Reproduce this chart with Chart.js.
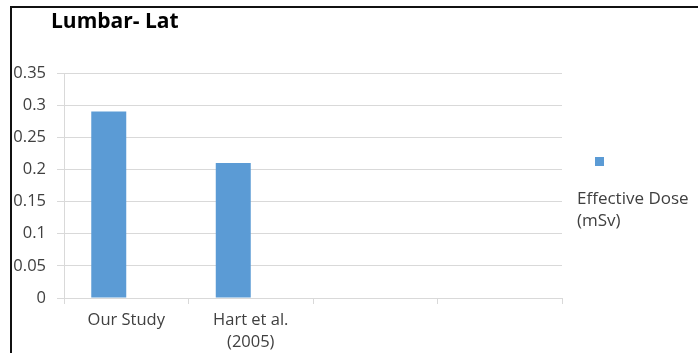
<!DOCTYPE html>
<html>
<head>
<meta charset="utf-8">
<script src="https://cdn.jsdelivr.net/npm/chart.js@4.4.1/dist/chart.umd.min.js"></script>
<style>
    body { margin: 0; background: #fff; }
    #wrap { position: relative; width: 698px; height: 353px; }
    #frame { position: absolute; left: 10px; top: 6px; width: 688px; height: 347px;
             border-top: 2px solid #111; border-left: 2px solid #111; box-sizing: border-box; }
    canvas { position: absolute; left: 0; top: 0; }
</style>
</head>
<body>
<div id="wrap">
    <div id="frame"></div>
    <canvas id="BarChart" width="698" height="353"></canvas>
</div>
<script>
// Chart values
const chartTitle = "Lumbar- Lat";
const categories = ["Our Study", ["Hart et al.", "(2005)"], "", ""];
const doseValues = [0.29, 0.21, null, null];
const emptySeries = [null, null, null, null];
const seriesLabel = ["Effective Dose", "(mSv)"];
const yTicks = { min: 0, max: 0.35, step: 0.05 };

const textColor = "#404040";
const barColor = "#5b9bd5";
const gridColor = "#d9d9d9";
const fontFamily = "'Open Sans', sans-serif";

// Draws the title and the legend where Excel put them
const sidePieces = {
    id: "sidePieces",
    afterDraw(chart) {
        const ctx = chart.ctx;
        ctx.save();
        ctx.fillStyle = "#000";
        ctx.font = "bold 21px " + fontFamily;
        ctx.textBaseline = "middle";
        ctx.fillText(chartTitle, 51, 22);
        // legend marker
        ctx.fillStyle = barColor;
        ctx.fillRect(595, 157, 9, 9);
        ctx.fillStyle = textColor;
        ctx.font = "17px " + fontFamily;
        ctx.fillText(seriesLabel[0], 577, 199);
        ctx.fillText(seriesLabel[1], 577, 221);
        ctx.restore();
    }
};

var c = document.getElementById("BarChart");
const bar = new Chart(c, {
    type: "bar",
    data: {
        labels: categories,
        datasets: [{
            label: seriesLabel.join(" "),
            data: doseValues,
            backgroundColor: barColor,
            categoryPercentage: 0.562,
            barPercentage: 1.0
        },
        {
            label: "",
            data: emptySeries,
            backgroundColor: "#ed7d31",
            categoryPercentage: 0.562,
            barPercentage: 1.0
        }]
    },
    options: {
        responsive: false,
        animation: false,
        layout: { padding: { top: 73, right: 136, left: 0, bottom: 0 } },
        plugins: {
            legend: { display: false },
            title: { display: false },
            tooltip: { enabled: false }
        },
        scales: {
            x: {
                offset: true,
                grid: { offset: true, drawOnChartArea: false, drawTicks: true, tickLength: 6, color: gridColor, lineWidth: 1 },
                border: { color: gridColor, width: 1 },
                ticks: { color: textColor, font: { family: fontFamily, size: 16.5, lineHeight: 1.3 }, padding: 6, maxRotation: 0, autoSkip: false },
                afterFit(scale) { scale.height = 55; }
            },
            y: {
                min: yTicks.min,
                max: yTicks.max,
                grid: { color: gridColor, lineWidth: 1, tickLength: 7 },
                border: { color: gridColor, width: 1 },
                ticks: {
                    stepSize: yTicks.step,
                    color: textColor,
                    font: { family: fontFamily, size: 16.5 },
                    padding: 11,
                    callback: function(v) { return String(+v.toFixed(2)); }
                },
                afterFit(scale) { scale.width = 64; }
            }
        }
    },
    plugins: [sidePieces]
});
</script>
</body>
</html>
